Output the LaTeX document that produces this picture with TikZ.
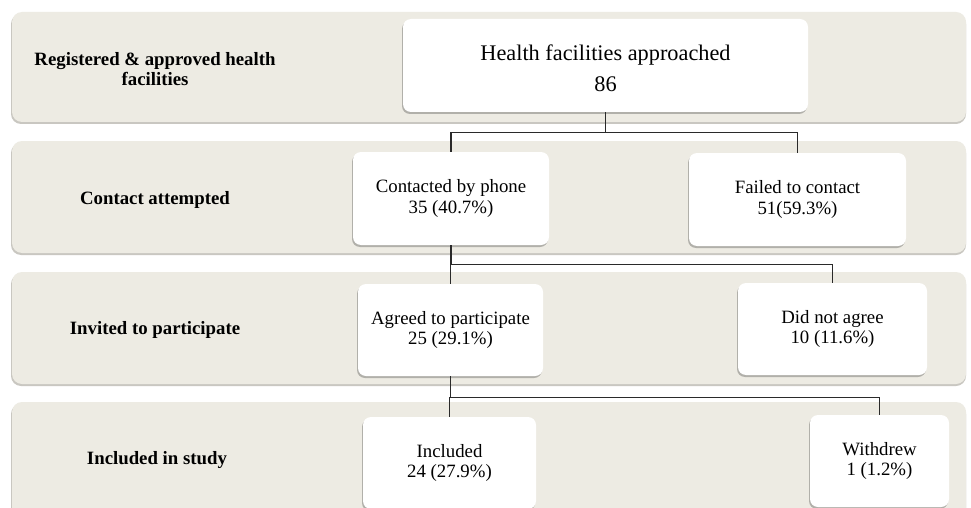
\documentclass[tikz,border=0pt]{standalone}
\usepackage{fontspec}
\setmainfont{Liberation Serif}
\usetikzlibrary{shadows}
\definecolor{bandfill}{HTML}{EDEBE3}
\definecolor{bandshade}{HTML}{C9C7C1}
\definecolor{linecol}{HTML}{2A2A2A}
\tikzset{
  band/.style={fill=bandfill, rounded corners=10pt},
  bandshadow/.style={fill=bandshade, rounded corners=10pt},
  fbox/.style={fill=white, rounded corners=8pt, align=center, inner sep=0pt,
    font=\fontsize{18.8}{20.5}\selectfont,
    drop shadow={shadow xshift=-1pt, shadow yshift=-2pt, opacity=0.25, fill=black}},
  rowlabel/.style={align=center, font=\fontsize{18.8}{19.5}\selectfont\bfseries},
  conn/.style={draw=linecol, line width=1.4pt}
}
\begin{document}
\begin{tikzpicture}[x=1pt,y=-1pt]
\useasboundingbox (0,0) rectangle (971,508);
\clip (0,0) rectangle (971,508);
\fill[white] (0,0) rectangle (971,508);
% bands
\fill[bandshadow] (11,14) rectangle (966,124);
\fill[band] (12,12) rectangle (966,122);
\fill[bandshadow] (11,143) rectangle (966,255);
\fill[band] (12,141) rectangle (966,253);
\fill[bandshadow] (11,274) rectangle (966,386);
\fill[band] (12,272) rectangle (966,384);
\fill[bandshadow] (11,404) rectangle (966,530);
\fill[band] (12,402) rectangle (966,530);
% row labels
\node[rowlabel] (l1) at (155,69) {Registered \& approved health\\facilities};
\node[rowlabel] (l2) at (155,200) {Contact attempted};
\node[rowlabel] (l3) at (155,330) {Invited to participate};
\node[rowlabel] (l4) at (157,460) {Included in study};
% boxes
\node[fbox, minimum width=405pt, minimum height=93pt,
  font=\fontsize{22.3}{31}\selectfont] (top) at (605.5,65.5) {\rule{0pt}{22pt}Health facilities approached\\86};
\node[fbox, minimum width=196pt, minimum height=93pt] (contacted) at (451,198.5) {Contacted by phone\\35 (40.7\%)};
\node[fbox, minimum width=217pt, minimum height=93pt] (failed) at (797.5,199.5) {Failed to contact\\51(59.3\%)};
\node[fbox, minimum width=185pt, minimum height=92pt] (agreed) at (450.5,330) {Agreed to participate\\25 (29.1\%)};
\node[fbox, minimum width=189pt, minimum height=92pt] (notagree) at (832.5,329) {Did not agree\\10 (11.6\%)};
\node[fbox, minimum width=173pt, minimum height=92pt] (included) at (449.5,463) {Included\\24 (27.9\%)};
\node[fbox, minimum width=139pt, minimum height=92pt] (withdrew) at (879.5,461) {Withdrew\\1 (1.2\%)};
% connectors
\draw[conn] (top.south) -- +(0,20) -| (contacted.north);
\draw[conn] (top.south) -- +(0,20) -| (failed.north);
\draw[conn] (contacted.south) -- +(0,19) -| (agreed.north);
\draw[conn] (contacted.south) -- +(0,19) -| (notagree.north);
\draw[conn] (agreed.south) -- +(0,21) -| (included.north);
\draw[conn] (agreed.south) -- +(0,21) -| (withdrew.north);
\end{tikzpicture}
\end{document}
